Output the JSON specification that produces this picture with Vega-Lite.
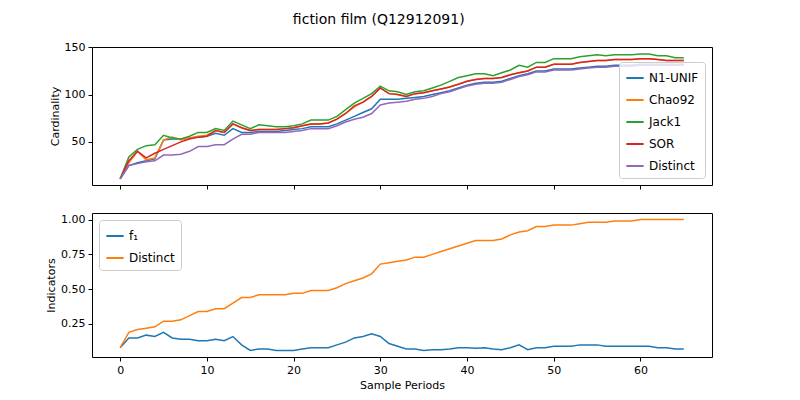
{
  "$schema": "https://vega.github.io/schema/vega-lite/v6.json",
  "background": "white",
  "padding": {"left": 45, "top": 12, "right": 10, "bottom": 5},
  "title": {"text": "fiction film (Q12912091)", "fontSize": 14, "font": "DejaVu Sans", "fontWeight": "normal", "offset": 14, "anchor": "middle", "color": "black"},
  "resolve": {"scale": {"color": "independent"}},
  "datasets": {
    "top": [
      {"t":0,"N1-UNIF":11,"Chao92":11,"Jack1":11,"SOR":11,"Distinct":11},
      {"t":1,"N1-UNIF":25,"Chao92":28,"Jack1":34,"SOR":30,"Distinct":25},
      {"t":2,"N1-UNIF":28,"Chao92":40,"Jack1":42,"SOR":40,"Distinct":27},
      {"t":3,"N1-UNIF":30,"Chao92":31,"Jack1":46,"SOR":33,"Distinct":29},
      {"t":4,"N1-UNIF":32,"Chao92":33,"Jack1":47,"SOR":38,"Distinct":30},
      {"t":5,"N1-UNIF":52,"Chao92":52,"Jack1":57,"SOR":42,"Distinct":36},
      {"t":6,"N1-UNIF":53,"Chao92":55,"Jack1":54,"SOR":46,"Distinct":36},
      {"t":7,"N1-UNIF":53,"Chao92":52,"Jack1":53,"SOR":50,"Distinct":37},
      {"t":8,"N1-UNIF":54,"Chao92":54,"Jack1":56,"SOR":53,"Distinct":40},
      {"t":9,"N1-UNIF":55,"Chao92":56,"Jack1":60,"SOR":55,"Distinct":45},
      {"t":10,"N1-UNIF":56,"Chao92":57,"Jack1":60,"SOR":56,"Distinct":45},
      {"t":11,"N1-UNIF":59,"Chao92":62,"Jack1":64,"SOR":62,"Distinct":47},
      {"t":12,"N1-UNIF":57,"Chao92":60,"Jack1":62,"SOR":60,"Distinct":47},
      {"t":13,"N1-UNIF":64,"Chao92":69,"Jack1":72,"SOR":69,"Distinct":53},
      {"t":14,"N1-UNIF":60,"Chao92":65,"Jack1":68,"SOR":65,"Distinct":58},
      {"t":15,"N1-UNIF":60,"Chao92":62,"Jack1":64,"SOR":62,"Distinct":58},
      {"t":16,"N1-UNIF":61,"Chao92":63,"Jack1":68,"SOR":63,"Distinct":60},
      {"t":17,"N1-UNIF":61,"Chao92":63,"Jack1":67,"SOR":63,"Distinct":60},
      {"t":18,"N1-UNIF":61,"Chao92":63,"Jack1":66,"SOR":63,"Distinct":60},
      {"t":19,"N1-UNIF":62,"Chao92":64,"Jack1":66,"SOR":64,"Distinct":60},
      {"t":20,"N1-UNIF":63,"Chao92":65,"Jack1":67,"SOR":65,"Distinct":61},
      {"t":21,"N1-UNIF":64,"Chao92":67,"Jack1":69,"SOR":67,"Distinct":62},
      {"t":22,"N1-UNIF":66,"Chao92":69,"Jack1":73,"SOR":69,"Distinct":64},
      {"t":23,"N1-UNIF":66,"Chao92":69,"Jack1":73,"SOR":69,"Distinct":64},
      {"t":24,"N1-UNIF":66,"Chao92":70,"Jack1":73,"SOR":70,"Distinct":64},
      {"t":25,"N1-UNIF":69,"Chao92":74,"Jack1":77,"SOR":74,"Distinct":67},
      {"t":26,"N1-UNIF":73,"Chao92":80,"Jack1":84,"SOR":80,"Distinct":71},
      {"t":27,"N1-UNIF":77,"Chao92":87,"Jack1":91,"SOR":88,"Distinct":74},
      {"t":28,"N1-UNIF":81,"Chao92":92,"Jack1":96,"SOR":92,"Distinct":76},
      {"t":29,"N1-UNIF":85,"Chao92":98,"Jack1":101,"SOR":98,"Distinct":80},
      {"t":30,"N1-UNIF":95,"Chao92":107,"Jack1":109,"SOR":107,"Distinct":89},
      {"t":31,"N1-UNIF":95,"Chao92":101,"Jack1":104,"SOR":101,"Distinct":91},
      {"t":32,"N1-UNIF":95,"Chao92":100,"Jack1":103,"SOR":100,"Distinct":92},
      {"t":33,"N1-UNIF":96,"Chao92":98,"Jack1":100,"SOR":98,"Distinct":93},
      {"t":34,"N1-UNIF":97,"Chao92":101,"Jack1":103,"SOR":101,"Distinct":95},
      {"t":35,"N1-UNIF":98,"Chao92":102,"Jack1":104,"SOR":102,"Distinct":96},
      {"t":36,"N1-UNIF":100,"Chao92":104,"Jack1":107,"SOR":104,"Distinct":98},
      {"t":37,"N1-UNIF":102,"Chao92":106,"Jack1":110,"SOR":106,"Distinct":101},
      {"t":38,"N1-UNIF":104,"Chao92":108,"Jack1":114,"SOR":108,"Distinct":103},
      {"t":39,"N1-UNIF":107,"Chao92":111,"Jack1":118,"SOR":111,"Distinct":106},
      {"t":40,"N1-UNIF":110,"Chao92":114,"Jack1":120,"SOR":114,"Distinct":109},
      {"t":41,"N1-UNIF":112,"Chao92":116,"Jack1":122,"SOR":116,"Distinct":111},
      {"t":42,"N1-UNIF":113,"Chao92":117,"Jack1":122,"SOR":117,"Distinct":112},
      {"t":43,"N1-UNIF":113,"Chao92":117,"Jack1":120,"SOR":117,"Distinct":112},
      {"t":44,"N1-UNIF":114,"Chao92":118,"Jack1":123,"SOR":118,"Distinct":113},
      {"t":45,"N1-UNIF":117,"Chao92":121,"Jack1":126,"SOR":121,"Distinct":116},
      {"t":46,"N1-UNIF":120,"Chao92":123,"Jack1":131,"SOR":123,"Distinct":119},
      {"t":47,"N1-UNIF":122,"Chao92":125,"Jack1":129,"SOR":125,"Distinct":121},
      {"t":48,"N1-UNIF":125,"Chao92":129,"Jack1":134,"SOR":129,"Distinct":124},
      {"t":49,"N1-UNIF":125,"Chao92":129,"Jack1":134,"SOR":129,"Distinct":124},
      {"t":50,"N1-UNIF":127,"Chao92":132,"Jack1":138,"SOR":132,"Distinct":126},
      {"t":51,"N1-UNIF":127,"Chao92":132,"Jack1":138,"SOR":132,"Distinct":126},
      {"t":52,"N1-UNIF":127,"Chao92":132,"Jack1":138,"SOR":132,"Distinct":126},
      {"t":53,"N1-UNIF":128,"Chao92":134,"Jack1":140,"SOR":134,"Distinct":127},
      {"t":54,"N1-UNIF":129,"Chao92":135,"Jack1":141,"SOR":135,"Distinct":128},
      {"t":55,"N1-UNIF":130,"Chao92":136,"Jack1":142,"SOR":136,"Distinct":129},
      {"t":56,"N1-UNIF":130,"Chao92":136,"Jack1":141,"SOR":136,"Distinct":129},
      {"t":57,"N1-UNIF":131,"Chao92":137,"Jack1":142,"SOR":137,"Distinct":130},
      {"t":58,"N1-UNIF":131,"Chao92":137,"Jack1":142,"SOR":137,"Distinct":130},
      {"t":59,"N1-UNIF":131,"Chao92":137,"Jack1":142,"SOR":137,"Distinct":130},
      {"t":60,"N1-UNIF":132,"Chao92":138,"Jack1":143,"SOR":138,"Distinct":131},
      {"t":61,"N1-UNIF":132,"Chao92":138,"Jack1":143,"SOR":138,"Distinct":131},
      {"t":62,"N1-UNIF":132,"Chao92":137,"Jack1":141,"SOR":137,"Distinct":131},
      {"t":63,"N1-UNIF":132,"Chao92":136,"Jack1":141,"SOR":136,"Distinct":131},
      {"t":64,"N1-UNIF":132,"Chao92":136,"Jack1":139,"SOR":136,"Distinct":131},
      {"t":65,"N1-UNIF":132,"Chao92":136,"Jack1":139,"SOR":136,"Distinct":131}
    ],
    "bottom": [
      {"t":0,"f₁":0.08,"Distinct":0.08},{"t":1,"f₁":0.15,"Distinct":0.19},{"t":2,"f₁":0.15,"Distinct":0.21},
      {"t":3,"f₁":0.17,"Distinct":0.22},{"t":4,"f₁":0.16,"Distinct":0.23},{"t":5,"f₁":0.19,"Distinct":0.27},
      {"t":6,"f₁":0.15,"Distinct":0.27},{"t":7,"f₁":0.14,"Distinct":0.28},{"t":8,"f₁":0.14,"Distinct":0.31},
      {"t":9,"f₁":0.13,"Distinct":0.34},{"t":10,"f₁":0.13,"Distinct":0.34},{"t":11,"f₁":0.14,"Distinct":0.36},
      {"t":12,"f₁":0.13,"Distinct":0.36},{"t":13,"f₁":0.16,"Distinct":0.40},{"t":14,"f₁":0.10,"Distinct":0.44},
      {"t":15,"f₁":0.06,"Distinct":0.44},{"t":16,"f₁":0.07,"Distinct":0.46},{"t":17,"f₁":0.07,"Distinct":0.46},
      {"t":18,"f₁":0.06,"Distinct":0.46},{"t":19,"f₁":0.06,"Distinct":0.46},{"t":20,"f₁":0.06,"Distinct":0.47},
      {"t":21,"f₁":0.07,"Distinct":0.47},{"t":22,"f₁":0.08,"Distinct":0.49},{"t":23,"f₁":0.08,"Distinct":0.49},
      {"t":24,"f₁":0.08,"Distinct":0.49},{"t":25,"f₁":0.10,"Distinct":0.51},{"t":26,"f₁":0.12,"Distinct":0.54},
      {"t":27,"f₁":0.15,"Distinct":0.56},{"t":28,"f₁":0.16,"Distinct":0.58},{"t":29,"f₁":0.18,"Distinct":0.61},
      {"t":30,"f₁":0.16,"Distinct":0.68},{"t":31,"f₁":0.11,"Distinct":0.69},{"t":32,"f₁":0.09,"Distinct":0.70},
      {"t":33,"f₁":0.07,"Distinct":0.71},{"t":34,"f₁":0.07,"Distinct":0.73},{"t":35,"f₁":0.06,"Distinct":0.73},
      {"t":36,"f₁":0.065,"Distinct":0.75},{"t":37,"f₁":0.065,"Distinct":0.77},{"t":38,"f₁":0.07,"Distinct":0.79},
      {"t":39,"f₁":0.08,"Distinct":0.81},{"t":40,"f₁":0.08,"Distinct":0.83},{"t":41,"f₁":0.075,"Distinct":0.85},
      {"t":42,"f₁":0.08,"Distinct":0.85},{"t":43,"f₁":0.07,"Distinct":0.85},{"t":44,"f₁":0.065,"Distinct":0.86},
      {"t":45,"f₁":0.08,"Distinct":0.89},{"t":46,"f₁":0.10,"Distinct":0.91},{"t":47,"f₁":0.065,"Distinct":0.92},
      {"t":48,"f₁":0.08,"Distinct":0.95},{"t":49,"f₁":0.08,"Distinct":0.95},{"t":50,"f₁":0.09,"Distinct":0.96},
      {"t":51,"f₁":0.09,"Distinct":0.96},{"t":52,"f₁":0.09,"Distinct":0.96},{"t":53,"f₁":0.10,"Distinct":0.97},
      {"t":54,"f₁":0.10,"Distinct":0.98},{"t":55,"f₁":0.10,"Distinct":0.98},{"t":56,"f₁":0.09,"Distinct":0.98},
      {"t":57,"f₁":0.09,"Distinct":0.99},{"t":58,"f₁":0.09,"Distinct":0.99},{"t":59,"f₁":0.09,"Distinct":0.99},
      {"t":60,"f₁":0.09,"Distinct":1.0},{"t":61,"f₁":0.09,"Distinct":1.0},{"t":62,"f₁":0.08,"Distinct":1.0},
      {"t":63,"f₁":0.08,"Distinct":1.0},{"t":64,"f₁":0.07,"Distinct":1.0},{"t":65,"f₁":0.07,"Distinct":1.0}
    ]
  },
  "spacing": 22,
  "vconcat": [
    {
      "width": 620,
      "height": 138,
      "data": {"name": "top"},
      "transform": [
        {"fold": ["N1-UNIF", "Chao92", "Jack1", "SOR", "Distinct"], "as": ["series", "value"]}
      ],
      "mark": {"type": "line", "strokeWidth": 1.5, "clip": true},
      "encoding": {
        "x": {"field": "t", "type": "quantitative", "scale": {"domain": [-3.25, 68.25], "nice": false, "zero": false},
              "axis": {"labels": false, "title": null, "values": [0, 10, 20, 30, 40, 50, 60]}},
        "y": {"field": "value", "type": "quantitative", "scale": {"domain": [4.4, 150.3], "nice": false, "zero": false},
              "axis": {"title": "Cardinality", "values": [50, 100, 150]}},
        "color": {"field": "series", "type": "nominal",
                  "scale": {"domain": ["N1-UNIF", "Chao92", "Jack1", "SOR", "Distinct"],
                            "range": ["#1f77b4", "#ff7f0e", "#2ca02c", "#d62728", "#9467bd"]},
                  "legend": {"orient": "bottom-right", "title": null, "offset": 7}},
        "order": {"field": "series", "sort": "ascending"}
      }
    },
    {
      "width": 620,
      "height": 144,
      "data": {"name": "bottom"},
      "transform": [
        {"fold": ["f₁", "Distinct"], "as": ["series", "value"]}
      ],
      "mark": {"type": "line", "strokeWidth": 1.5},
      "encoding": {
        "x": {"field": "t", "type": "quantitative", "scale": {"domain": [-3.25, 68.25], "nice": false, "zero": false},
              "axis": {"title": "Sample Periods", "values": [0, 10, 20, 30, 40, 50, 60]}},
        "y": {"field": "value", "type": "quantitative", "scale": {"domain": [0.013, 1.047], "nice": false, "zero": false},
              "axis": {"title": "Indicators", "values": [0.25, 0.5, 0.75, 1.0], "format": ".2f"}},
        "color": {"field": "series", "type": "nominal",
                  "scale": {"domain": ["f₁", "Distinct"], "range": ["#1f77b4", "#ff7f0e"]},
                  "legend": {"orient": "top-left", "title": null, "offset": 7}}
      }
    }
  ],
  "config": {
    "font": "DejaVu Sans",
    "view": {"stroke": "black", "strokeWidth": 1},
    "axis": {"grid": false, "domain": false, "tickColor": "black", "tickSize": 4, "labelColor": "black",
             "labelFontSize": 11, "titleFontSize": 11, "titleFontWeight": "normal", "titleColor": "black", "labelPadding": 3},
    "legend": {"symbolType": "stroke", "symbolSize": 300, "symbolStrokeWidth": 2, "labelFontSize": 12, "labelColor": "black",
               "strokeColor": "#cccccc", "fillColor": "rgba(255,255,255,0.8)", "padding": 6, "cornerRadius": 3, "rowPadding": 6}
  }
}
